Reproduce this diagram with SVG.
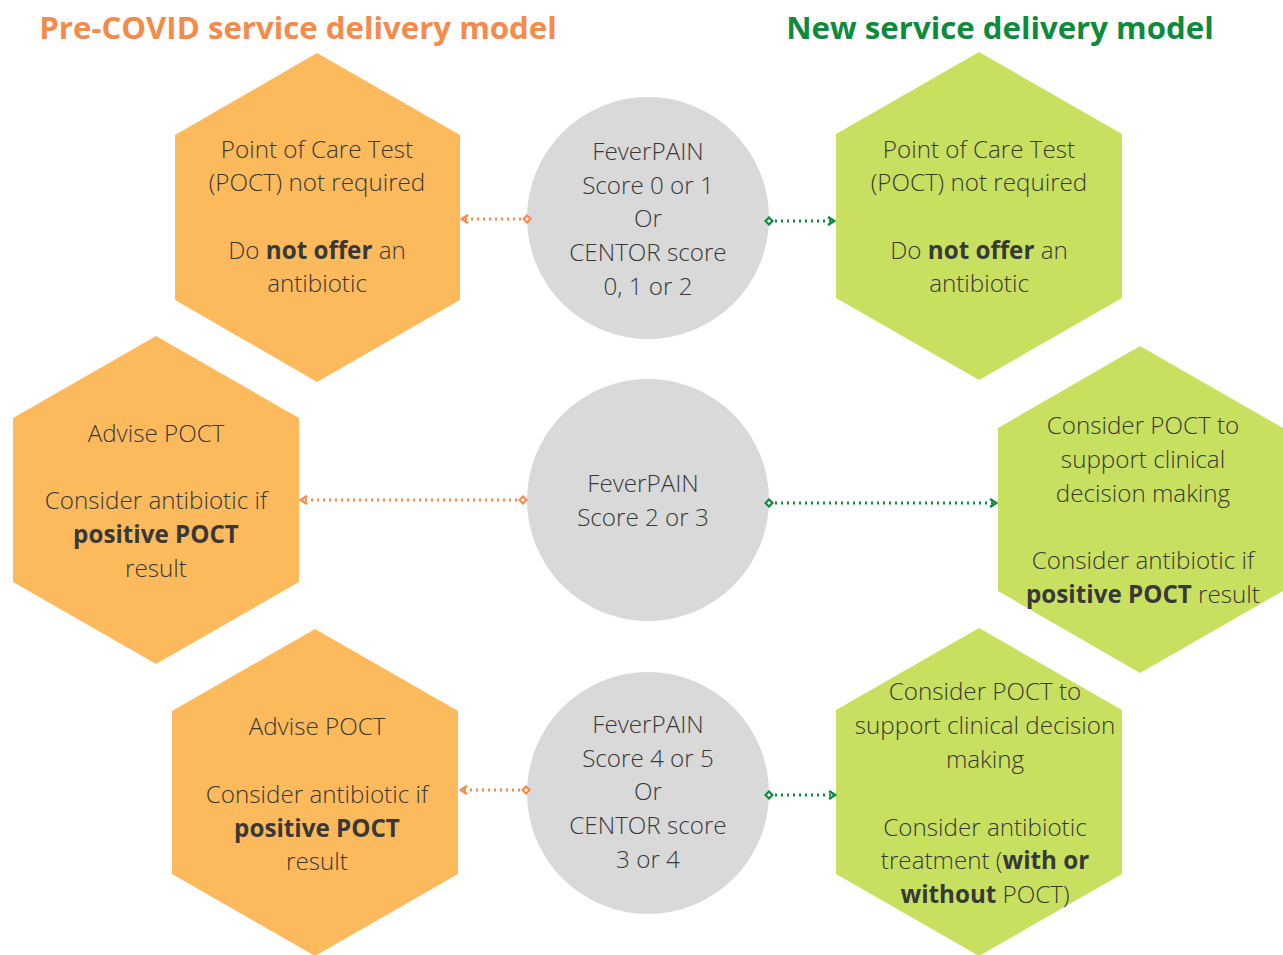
<svg xmlns="http://www.w3.org/2000/svg" width="1283" height="955" viewBox="0 0 1283 955">
<defs>
<style>
.t{font-family:"Open Sans","Liberation Sans",sans-serif;font-size:24.2px;fill:#383838;text-anchor:middle;font-weight:300}
.b{font-weight:700}
.title{font-family:"Open Sans","Liberation Sans",sans-serif;font-size:31.2px;font-weight:700;text-anchor:middle}
.ho{fill:#FDBA5C}
.hg{fill:#C8E05F}
.c{fill:#D9D9D9}
.lo{stroke:#F58A4B;stroke-width:3;stroke-dasharray:2 4;fill:none}
.lg{stroke:#0E8A3C;stroke-width:3;stroke-dasharray:2 4;fill:none}
</style>
<marker id="ao" viewBox="0 0 10 10" refX="8" refY="5" markerWidth="10" markerHeight="10" markerUnits="userSpaceOnUse" orient="auto"><path d="M2,1 L8,5 L2,9" fill="none" stroke="#F58A4B" stroke-width="2.5"/></marker>
<marker id="ag" viewBox="0 0 10 10" refX="8" refY="5" markerWidth="10" markerHeight="10" markerUnits="userSpaceOnUse" orient="auto"><path d="M2,1 L8,5 L2,9" fill="none" stroke="#0E8A3C" stroke-width="2.5"/></marker>
<marker id="do" viewBox="0 0 10 10" refX="5" refY="5" markerWidth="10" markerHeight="10" markerUnits="userSpaceOnUse" orient="auto"><path d="M5,1.5 L8.5,5 L5,8.5 L1.5,5 Z" fill="#fff" stroke="#F58A4B" stroke-width="2.2"/></marker>
<marker id="dg" viewBox="0 0 10 10" refX="5" refY="5" markerWidth="10" markerHeight="10" markerUnits="userSpaceOnUse" orient="auto"><path d="M5,1.5 L8.5,5 L5,8.5 L1.5,5 Z" fill="#fff" stroke="#0E8A3C" stroke-width="2.2"/></marker>
</defs>
<rect width="1283" height="955" fill="#fff"/>
<text class="title" x="298" y="39" fill="#F58A4B">Pre-COVID service delivery model</text>
<text class="title" x="1000" y="39" fill="#0E8A3C">New service delivery model</text>

<g id="hex-tl"><polygon class="ho" points="317,53 460,135 460,300 317,382 175,300 175,135"/>
<text class="t"><tspan x="317" y="158">Point of Care Test</tspan><tspan x="317" y="191">(POCT) not required</tspan><tspan x="317" y="259">Do <tspan class="b">not offer</tspan> an</tspan><tspan x="317" y="292">antibiotic</tspan></text></g>

<g id="hex-tr"><polygon class="hg" points="979,52 1122,134 1122,298 979,380 836,298 836,134"/>
<text class="t"><tspan x="979" y="158">Point of Care Test</tspan><tspan x="979" y="191">(POCT) not required</tspan><tspan x="979" y="259">Do <tspan class="b">not offer</tspan> an</tspan><tspan x="979" y="292">antibiotic</tspan></text></g>

<g id="hex-ml"><polygon class="ho" points="156,336 299,418 299,582 156,664 13,582 13,418"/>
<text class="t"><tspan x="156" y="442">Advise POCT</tspan><tspan x="156" y="509">Consider antibiotic if</tspan><tspan x="156" y="543" class="b">positive POCT</tspan><tspan x="156" y="577">result</tspan></text></g>

<g id="hex-mr"><polygon class="hg" points="1140,346 1283,428 1283,591 1140,673 998,591 998,428"/>
<text class="t"><tspan x="1143" y="434">Consider POCT to</tspan><tspan x="1143" y="468">support clinical</tspan><tspan x="1143" y="502">decision making</tspan><tspan x="1143" y="569">Consider antibiotic if</tspan><tspan x="1143" y="603"><tspan class="b">positive POCT</tspan> result</tspan></text></g>

<g id="hex-bl"><polygon class="ho" points="315,629 458,711 458,874 315,956 172,874 172,711"/>
<text class="t"><tspan x="317" y="735">Advise POCT</tspan><tspan x="317" y="803">Consider antibiotic if</tspan><tspan x="317" y="837" class="b">positive POCT</tspan><tspan x="317" y="870">result</tspan></text></g>

<g id="hex-br"><polygon class="hg" points="979,628 1122,710 1122,874 979,956 836,874 836,710"/>
<text class="t"><tspan x="985" y="700">Consider POCT to</tspan><tspan x="985" y="734">support clinical decision</tspan><tspan x="985" y="768">making</tspan><tspan x="985" y="836">Consider antibiotic</tspan><tspan x="985" y="869">treatment (<tspan class="b">with or</tspan></tspan><tspan x="985" y="903"><tspan class="b">without</tspan> POCT)</tspan></text></g>

<g id="circle-top"><circle class="c" cx="648" cy="218" r="121"/>
<text class="t"><tspan x="648" y="160">FeverPAIN</tspan><tspan x="648" y="194">Score 0 or 1</tspan><tspan x="648" y="227">Or</tspan><tspan x="648" y="261">CENTOR score</tspan><tspan x="648" y="295">0, 1 or 2</tspan></text></g>

<g id="circle-mid"><circle class="c" cx="648" cy="500" r="121"/>
<text class="t"><tspan x="643" y="492">FeverPAIN</tspan><tspan x="643" y="526">Score 2 or 3</tspan></text></g>

<g id="circle-bot"><circle class="c" cx="648" cy="793" r="121"/>
<text class="t"><tspan x="648" y="733">FeverPAIN</tspan><tspan x="648" y="767">Score 4 or 5</tspan><tspan x="648" y="800">Or</tspan><tspan x="648" y="834">CENTOR score</tspan><tspan x="648" y="868">3 or 4</tspan></text></g>

<g id="connectors">
<path class="lo" d="M527,219 L462,219" marker-start="url(#do)" marker-end="url(#ao)"/>
<path class="lg" d="M769,221 L834,221" marker-start="url(#dg)" marker-end="url(#ag)"/>
<path class="lo" d="M523,500 L301,500" marker-start="url(#do)" marker-end="url(#ao)"/>
<path class="lg" d="M769,503 L996,503" marker-start="url(#dg)" marker-end="url(#ag)"/>
<path class="lo" d="M526,790 L461,790" marker-start="url(#do)" marker-end="url(#ao)"/>
<path class="lg" d="M769,795 L835,795" marker-start="url(#dg)" marker-end="url(#ag)"/>
</g>
</svg>
